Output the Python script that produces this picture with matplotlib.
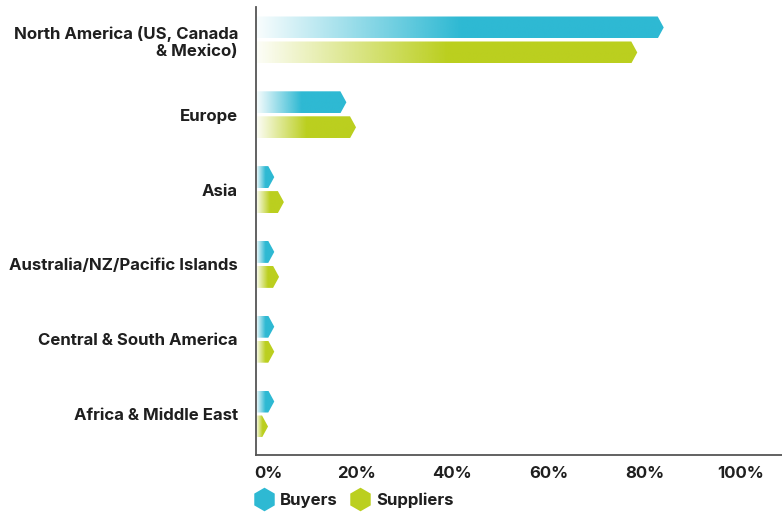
import numpy as np
import matplotlib
matplotlib.use('Agg')
import matplotlib.pyplot as plt
from matplotlib.patches import Polygon
from matplotlib.lines import Line2D
from matplotlib.colors import to_rgb
import matplotlib.transforms as mtransforms

plt.rcParams['font.family'] = ['Inter', 'DejaVu Sans']
plt.rcParams['font.weight'] = 'bold'

# data (percent of respondents)
regions = ['North America (US, Canada\n& Mexico)', 'Europe', 'Asia',
           'Australia/NZ/Pacific Islands', 'Central & South America',
           'Africa & Middle East']
buyers = [84, 18, 3, 3, 3, 3]
suppliers = [78.5, 20, 5, 4, 3, 1.7]
series_names = ['Buyers', 'Suppliers']
series_colors = ['#2EB9D3', '#BBCF1F']
ticks = [0, 20, 40, 60, 80, 100]
tick_labels = ['0%', '20%', '40%', '60%', '80%', '100%']

fig = plt.figure(figsize=(7.82, 5.13), dpi=100)
ax = fig.add_axes([256 / 782, 58 / 513, 1 - 256 / 782, 448 / 513])
ax.set_xlim(-0.8, 108.6)
ax.set_ylim(5.548, -0.441)

bar_h = 0.294
offset = 0.167
tip = 1.25  # length of the arrow point, in data units


def draw_bar(y, val, color):
    x0 = -0.8
    y0, y1 = y - bar_h / 2, y + bar_h / 2
    verts = [(x0, y0), (val - tip, y0), (val, y), (val - tip, y1), (x0, y1)]
    poly = Polygon(verts, closed=True, facecolor='none', edgecolor='none')
    ax.add_patch(poly)
    n = 256
    rgba = np.zeros((1, n, 4))
    rgba[..., :3] = to_rgb(color)
    ramp = np.clip(np.linspace(0, 2, n), 0, 1)
    rgba[0, :, 3] = 0.03 + 0.97 * ramp
    im = ax.imshow(rgba, extent=[x0, val, y1, y0], aspect='auto',
                   interpolation='bilinear', zorder=2)
    im.set_clip_path(poly)


for i in range(len(regions)):
    draw_bar(i - offset, buyers[i], series_colors[0])
    draw_bar(i + offset, suppliers[i], series_colors[1])

fs = 12.1
ax.set_yticks(range(len(regions)))
ax.set_yticklabels(regions, fontsize=fs, fontweight='bold', color='#1f1f1f',
                   linespacing=1.2)
ax.set_xticks(ticks)
ax.set_xticklabels(tick_labels, fontsize=fs, fontweight='bold', color='#1f1f1f')
ax.tick_params(axis='y', length=0, pad=13)
ax.tick_params(axis='x', length=0, pad=8)
first = ax.get_xticklabels()[0]
first.set_horizontalalignment('left')
first.set_transform(first.get_transform() +
                    mtransforms.ScaledTranslation(-6 / 100, 0, fig.dpi_scale_trans))

for s in ['top', 'right']:
    ax.spines[s].set_visible(False)
for s in ['left', 'bottom']:
    ax.spines[s].set_color('#555555')
    ax.spines[s].set_linewidth(1.3)

handles = [Line2D([], [], marker='h', linestyle='none', markersize=17,
                  markerfacecolor=c, markeredgecolor='none') for c in series_colors]
fig.legend(handles, series_names, loc='center left',
           bbox_to_anchor=(255.5 / 782, 1 - 500 / 513), ncol=2, frameon=False,
           handlelength=1.0, handletextpad=0.44, columnspacing=0.85,
           prop={'size': fs, 'weight': 'bold'}, labelcolor='#1f1f1f',
           borderpad=0, borderaxespad=0)

fig.savefig('out.png', dpi=100)
